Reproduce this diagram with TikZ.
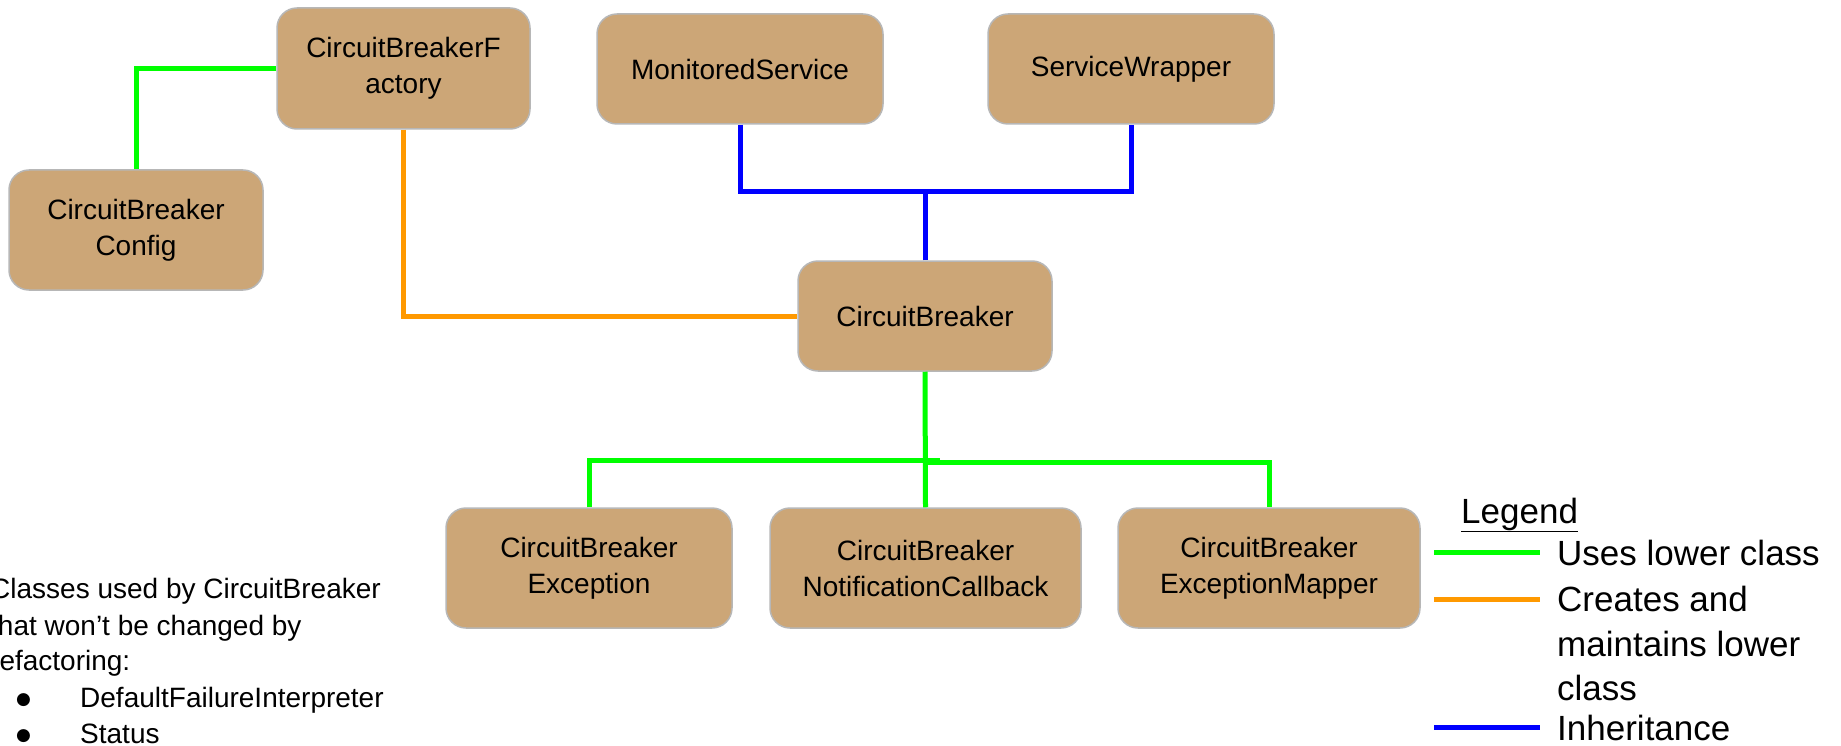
\documentclass[tikz,border=0pt]{standalone}
\usepackage{fontspec}
\setmainfont{Liberation Sans}
\newfontfamily\symfont{DejaVu Sans}
\definecolor{boxfill}{RGB}{204,166,119}
\definecolor{boxborder}{RGB}{183,183,183}
\definecolor{usegreen}{RGB}{0,255,0}
\definecolor{createorange}{RGB}{255,153,0}
\definecolor{inhblue}{RGB}{0,0,255}
\begin{document}
\begin{tikzpicture}[x=1pt,y=-1pt,
  box/.style={draw=boxborder, line width=1.5pt, fill=boxfill, rounded corners=20pt,
    align=center, inner sep=0pt, font=\fontsize{28}{36}\selectfont},
  uses/.style={draw=usegreen, line width=5pt},
  creates/.style={draw=createorange, line width=5pt},
  inh/.style={draw=inhblue, line width=5pt},
  legtext/.style={anchor=base west, inner sep=0pt, font=\fontsize{35}{44}\selectfont},
  note/.style={anchor=base west, inner sep=0pt, font=\fontsize{28}{36}\selectfont}]
\useasboundingbox (0,0) rectangle (1841,746);
\fill[white] (0,0) rectangle (1841,746);

% class boxes
\node[box, minimum width=253pt, minimum height=121pt] (fac) at (403.5,68.5) {CircuitBreakerF\\actory};
\node[box, minimum width=286pt, minimum height=110pt] (mon) at (740,69) {MonitoredService};
\node[box, minimum width=286pt, minimum height=110pt] (sw) at (1131,69) {ServiceWrapper};
\node[box, minimum width=254pt, minimum height=120pt] (cfg) at (136,230) {CircuitBreaker\\Config};
\node[box, minimum width=254pt, minimum height=110pt] (cb) at (925,316) {CircuitBreaker};
\node[box, minimum width=286pt, minimum height=120pt] (exc) at (589,568) {CircuitBreaker\\Exception};
\node[box, minimum width=311pt, minimum height=120pt] (ntf) at (925.5,568) {CircuitBreaker\\NotificationCallback};
\node[box, minimum width=302pt, minimum height=120pt] (map) at (1269,568) {CircuitBreaker\\ExceptionMapper};

% connectors
\draw[uses] (fac.west) -| (cfg.north);
\draw[creates] (fac.south) |- (cb.west);
\coordinate (bj) at (925,192);
\draw[inh] (mon.south) |- (bj) -| (sw.south);
\draw[inh] (cb.north) -- (cb.north |- bj);
\draw[uses] (cb.south) -- (ntf.north);
\coordinate (gj1) at (940,460);
\coordinate (gj2) at (925,462);
\draw[uses] (exc.north) |- (gj1);
\draw[uses] (gj2) -| (map.north);

% legend
\node[legtext] (leg) at (1461,523) {\underline{Legend}};
\coordinate (lga1) at (1434,552); \coordinate (lga2) at (1540,552);
\coordinate (lgb1) at (1434,599); \coordinate (lgb2) at (1540,599);
\coordinate (lgc1) at (1434,727); \coordinate (lgc2) at (1540,727);
\draw[uses] (lga1) -- (lga2);
\draw[creates] (lgb1) -- (lgb2);
\draw[inh] (lgc1) -- (lgc2);
\node[legtext] (lt1) at (1557,565) {Uses lower class};
\node[legtext] (lt2) at (1557,611) {Creates and};
\node[legtext] (lt3) at (1557,656) {maintains lower};
\node[legtext] (lt4) at (1557,700) {class};
\node[legtext] (lt5) at (1557,740) {Inheritance};

% note
\node[note] (n1) at (-10,598) {Classes used by CircuitBreaker};
\node[note] (n2) at (-10,635) {that won’t be changed by};
\node[note] (n3) at (-10,670) {refactoring:};
\node[note, font=\symfont\fontsize{17}{20}\selectfont] (b1) at (16,704) {●};
\node[note] (n4) at (80,707) {DefaultFailureInterpreter};
\node[note, font=\symfont\fontsize{17}{20}\selectfont] (b2) at (16,740) {●};
\node[note] (n5) at (80,743) {Status};
\end{tikzpicture}
\end{document}
